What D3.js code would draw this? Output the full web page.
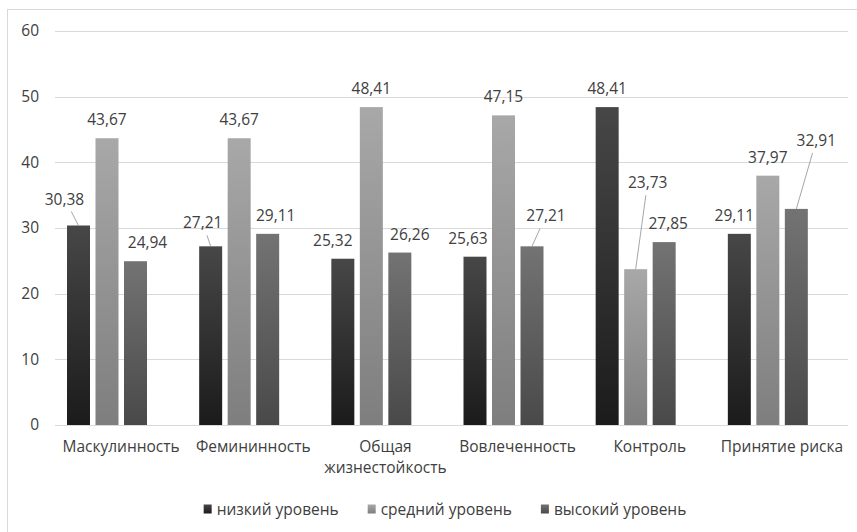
<!DOCTYPE html>
<html>
<head>
<meta charset="utf-8">
<title>Жизнестойкость</title>
<script src="https://cdn.jsdelivr.net/npm/d3@7/dist/d3.min.js"></script>
<style>
    body { margin: 0; background: #fff; }
    svg text { font-family: "Open Sans", Lato, sans-serif; fill: #404040; }
</style>
</head>
<body>
<div id="chart"></div>
<script>
var width = 857, height = 532;
var fontSize = "15.5px";

var categories = ["Маскулинность", "Фемининность", "Общая жизнестойкость", "Вовлеченность", "Контроль", "Принятие риска"];
var seriesNames = ["низкий уровень", "средний уровень", "высокий уровень"];
var low = [30.38, 27.21, 25.32, 25.63, 48.41, 29.11];
var mid = [43.67, 43.67, 48.41, 47.15, 23.73, 37.97];
var high = [24.94, 29.11, 26.26, 27.21, 27.85, 32.91];
var yTicks = [0, 10, 20, 30, 40, 50, 60];

// label nudges [series, category, dx, dy, leader line?]
var nudges = [
    [0, 0, -14, -8, true], [2, 0, 12, 0, false],
    [0, 1, -8, -5, true], [2, 1, 8, 0, false],
    [0, 2, -10, 0, false], [2, 2, 10, 0, false],
    [0, 3, -7, 0, false], [2, 3, 14, -12, true],
    [1, 4, 12, -68, true], [2, 4, 4, 0, false],
    [0, 5, -5, 0, false], [2, 5, 20, -50, true]
];

var series = [low, mid, high];
var topColors = ["#474747", "#a8a8a8", "#737373"];
var bottomColors = ["#1b1b1b", "#7e7e7e", "#494949"];

var plotLeft = 55, plotRight = 848, plotTop = 31, plotBottom = 425;

var svg = d3.select("#chart").append("svg")
    .attr("width", width).attr("height", height);

var defs = svg.append("defs");
series.forEach(function (s, i) {
    var g = defs.append("linearGradient").attr("id", "grad" + i)
        .attr("x1", 0).attr("y1", 0).attr("x2", 0).attr("y2", 1);
    g.append("stop").attr("offset", "0%").attr("stop-color", topColors[i]);
    g.append("stop").attr("offset", "100%").attr("stop-color", bottomColors[i]);
});

// chart frame
svg.append("rect")
    .attr("x", 7.5).attr("y", 9.5)
    .attr("width", 880).attr("height", 540)
    .attr("fill", "none").attr("stroke", "#d9d9d9");

var x0 = d3.scaleBand().domain(d3.range(categories.length)).range([plotLeft, plotRight]);
// 4 slots per group (Excel keeps room for an empty 4th series)
var x1 = d3.scaleBand().domain(d3.range(4)).range([12, 120.5]).paddingInner(0.193);
var y = d3.scaleLinear().domain([0, 60]).range([plotBottom, plotTop]);

function measure(s) {
    var t = svg.append("text").style("font-size", fontSize).text(s);
    var w = t.node().getComputedTextLength();
    t.remove();
    return w;
}

// grid
svg.append("g").selectAll("line").data(yTicks).enter().append("line")
    .attr("x1", plotLeft).attr("x2", plotRight)
    .attr("y1", function (d) { return Math.round(y(d)) + 0.5; })
    .attr("y2", function (d) { return Math.round(y(d)) + 0.5; })
    .attr("stroke", "#d9d9d9").attr("stroke-width", 1);

// y axis labels
var yAxis = d3.axisLeft(y).tickValues(yTicks).tickSize(0).tickPadding(0);
var yG = svg.append("g").attr("transform", "translate(39,0)").call(yAxis);
yG.attr("font-family", null);
yG.select(".domain").remove();
yG.selectAll("text").style("font-size", fontSize).attr("fill", "#404040");

// x axis labels
var xAxis = d3.axisBottom(x0).tickSize(0).tickFormat(function (i) { return categories[i]; });
var xG = svg.append("g").attr("transform", "translate(0," + plotBottom + ")").call(xAxis);
xG.attr("font-family", null);
xG.select(".domain").remove();
xG.selectAll("text").style("font-size", fontSize).attr("fill", "#404040")
    .attr("y", 0).attr("dy", 0)
    .each(function (i) {
        var t = d3.select(this);
        var words = categories[i].split(" ");
        t.text(null);
        if (x0.bandwidth() - 6 < measure(categories[i]) && words.length > 1) {
            words.forEach(function (w, k) {
                t.append("tspan").attr("x", 0).attr("y", 27 + k * 21).text(w);
            });
        } else {
            t.append("tspan").attr("x", 0).attr("y", 27).text(categories[i]);
        }
    });

// bars
var data = [];
series.forEach(function (s, si) {
    s.forEach(function (v, ci) { data.push({ s: si, c: ci, v: v }); });
});

svg.append("g").selectAll("rect").data(data).enter().append("rect")
    .attr("x", function (d) { return x0(d.c) + x1(d.s); })
    .attr("y", function (d) { return y(d.v); })
    .attr("width", x1.bandwidth())
    .attr("height", function (d) { return y(0) - y(d.v); })
    .attr("fill", function (d) { return "url(#grad" + d.s + ")"; });

// value labels
function nudgeOf(d) {
    var n = nudges.find(function (a) { return a[0] === d.s && a[1] === d.c; });
    return n || [d.s, d.c, 0, 0, false];
}
var labelG = svg.append("g");
data.forEach(function (d) {
    var n = nudgeOf(d);
    var bx = x0(d.c) + x1(d.s) + x1.bandwidth() / 2;
    var by = y(d.v);
    var lx = bx + n[2], ly = by - 19 + n[3];
    if (n[4]) {
        var dx = bx - lx, dy = by - ly;
        var t = Math.min(13 / Math.abs(dy), 24 / Math.abs(dx || 1e-6));
        labelG.append("line")
            .attr("x1", lx + dx * t).attr("y1", ly + dy * t)
            .attr("x2", bx).attr("y2", by)
            .attr("stroke", "#a6a6a6").attr("stroke-width", 1);
    }
    labelG.append("text")
        .attr("x", lx).attr("y", ly)
        .attr("text-anchor", "middle").attr("dominant-baseline", "central")
        .style("font-size", fontSize)
        .text(d3.format(".2f")(d.v).replace(".", ","));
});

// legend
var legendY = 509;
var widths = seriesNames.map(measure);
var itemW = widths.map(function (w) { return 13 + w; });
var gap = 29;
var total = d3.sum(itemW) + gap * (itemW.length - 1);
var lx0 = 445 - total / 2;
var legend = svg.append("g");
seriesNames.forEach(function (name, i) {
    var x = lx0 + d3.sum(itemW.slice(0, i)) + gap * i;
    legend.append("rect")
        .attr("x", x).attr("y", legendY - 4.5)
        .attr("width", 8).attr("height", 9)
        .attr("fill", "url(#grad" + i + ")");
    legend.append("text")
        .attr("x", x + 13).attr("y", legendY)
        .attr("dominant-baseline", "central")
        .style("font-size", fontSize)
        .text(name);
});
</script>
</body>
</html>
